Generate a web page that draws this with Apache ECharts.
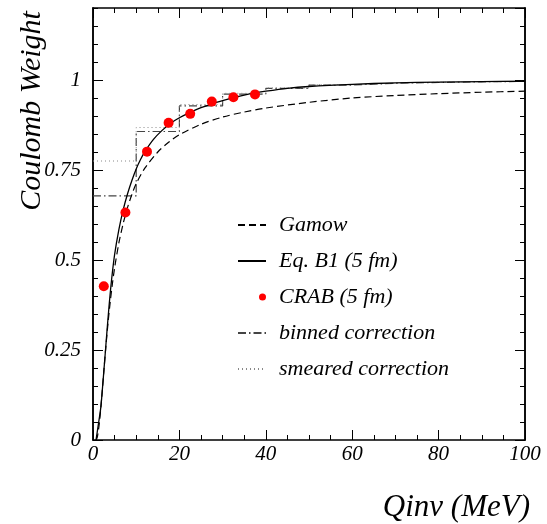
<!DOCTYPE html>
<html lang="en" style="height: 100%">
<head>
  <meta charset="utf-8">
</head>
<body style="height: 100%; margin: 0">
<div id="container" style="width: 547px; height: 524px"></div>

<script type="text/javascript" src="https://cdn.jsdelivr.net/npm/echarts@6/dist/echarts.min.js"></script>
<script type="text/javascript">
  // Gamow factor (dashed)
  var qGamow = [0.7, 1, 1.5, 2, 2.5, 3, 3.5, 4, 4.5, 5, 6, 7, 8, 9, 10, 12, 15, 17.5, 20, 25, 30, 35, 40, 50, 60, 70, 80, 90, 100];
  var wGamow = [0, 0.008, 0.05, 0.115, 0.19, 0.262, 0.328, 0.385, 0.435, 0.478, 0.548, 0.602, 0.646, 0.682, 0.712, 0.755, 0.8, 0.827, 0.848, 0.877, 0.897, 0.911, 0.922, 0.938, 0.95, 0.957, 0.962, 0.966, 0.969];

  // Eq. B1 (5 fm), solid
  var qB1 = [0.7, 1.2, 1.8, 2.2, 2.7, 3.2, 3.7, 4.3, 5, 6, 7, 8, 9, 10, 11, 12, 14, 16, 18, 20, 22.5, 25, 27.5, 30, 32.5, 35, 37.5, 40, 45, 50, 60, 70, 80, 90, 100];
  var wB1 = [0, 0.04, 0.09, 0.145, 0.22, 0.297, 0.37, 0.445, 0.515, 0.585, 0.64, 0.684, 0.721, 0.753, 0.779, 0.801, 0.835, 0.86, 0.88, 0.895, 0.91, 0.923, 0.934, 0.943, 0.951, 0.958, 0.964, 0.969, 0.977, 0.982, 0.988, 0.992, 0.994, 0.9955, 0.9965];

  // CRAB (5 fm) points
  var qCrab = [2.5, 7.5, 12.5, 17.5, 22.5, 27.5, 32.5, 37.5];
  var wCrab = [0.427, 0.632, 0.801, 0.881, 0.906, 0.94, 0.952, 0.96];

  // 10 MeV bins
  var binEdges = [0, 10, 20, 30, 40, 50, 60, 70, 80, 90, 100];
  var wBinned = [0.678, 0.857, 0.928, 0.961, 0.977, 0.986, 0.991, 0.993, 0.995, 0.996];
  var wSmeared = [0.775, 0.868, 0.932, 0.963, 0.978, 0.987, 0.991, 0.994, 0.995, 0.996];

  var xTickValues = [0, 20, 40, 60, 80, 100];
  var xTickLabels = ['0', '20', '40', '60', '80', '100'];
  var yTickValues = [0, 0.25, 0.5, 0.75, 1];
  var yTickLabels = ['0', '0.25', '0.5', '0.75', '1'];

  function zip(xs, ys) {
    return xs.map(function (x, i) { return [x, ys[i]]; });
  }
  function steps(edges, vals) {
    var d = vals.map(function (v, i) { return [edges[i], v]; });
    d.push([edges[edges.length - 1], vals[vals.length - 1]]);
    return d;
  }
  function labelFor(values, labels) {
    return function (v) {
      for (var i = 0; i < values.length; i++) {
        if (Math.abs(values[i] - v) < 1e-6) return labels[i];
      }
      return '';
    };
  }

  var serif = '"Liberation Serif", "Times New Roman", serif';
  var black = '#000';
  var none = 'rgba(0,0,0,0)';

  function xAx(pos, showLabel) {
    return {
      type: 'value', min: 0, max: 100, interval: 20, position: pos,
      axisLine: { show: true, onZero: false, lineStyle: { color: black, width: 1.5 } },
      axisTick: { show: true, inside: true, length: 10, lineStyle: { color: black, width: 1 } },
      minorTick: { show: true, splitNumber: 4, length: 5, lineStyle: { color: black, width: 1 } },
      splitLine: { show: false },
      axisLabel: {
        show: showLabel, margin: 4, color: black, fontSize: 21, fontStyle: 'italic', fontFamily: serif,
        formatter: labelFor(xTickValues, xTickLabels)
      }
    };
  }
  function yAx(pos, interval, len, showLabel) {
    return {
      type: 'value', min: 0, max: 1.2, interval: interval, position: pos,
      axisLine: { show: true, onZero: false, lineStyle: { color: black, width: 1.5 } },
      axisTick: { show: true, inside: true, length: len, lineStyle: { color: black, width: 1 } },
      splitLine: { show: false },
      axisLabel: {
        show: showLabel, margin: 12, color: black, fontSize: 21, fontStyle: 'italic', fontFamily: serif,
        showMaxLabel: false,
        formatter: labelFor(yTickValues, yTickLabels)
      }
    };
  }

  var dom = document.getElementById('container');
  var myChart = echarts.init(dom, null, { renderer: 'canvas' });

  var option = {
    animation: false,
    backgroundColor: '#fff',
    grid: { left: 93, right: 22, top: 8, bottom: 84, containLabel: false, outerBoundsMode: 'none' },
    xAxis: [xAx('bottom', true), xAx('top', false)],
    yAxis: [
      yAx('left', 0.25, 10, true),
      yAx('left', 0.05, 5, false),
      yAx('right', 0.25, 10, false),
      yAx('right', 0.05, 5, false)
    ],
    legend: {
      orient: 'vertical',
      left: 237,
      top: 214,
      padding: 0,
      itemWidth: 28,
      itemHeight: 7,
      itemGap: 14,
      textStyle: { color: black, fontSize: 22, fontStyle: 'italic', fontFamily: serif, padding: [0, 0, 0, 8] },
      data: [
        'Gamow',
        'Eq. B1 (5 fm)',
        { name: 'CRAB (5 fm)', icon: 'path://M0,3.5L0,3.5M21,3.5a3.5,3.5 0 1,0 7,0a3.5,3.5 0 1,0 -7,0Z' },
        'binned correction',
        'smeared correction'
      ]
    },
    graphic: [
      {
        type: 'text', x: 32, y: 111, rotation: Math.PI / 2,
        style: {
          text: 'Coulomb Weight', fill: black, font: 'italic 30px ' + serif,
          align: 'center', verticalAlign: 'middle', textAlign: 'center', textVerticalAlign: 'middle'
        }
      },
      {
        type: 'text', x: 530, y: 508,
        style: {
          text: 'Qinv (MeV)', fill: black, font: 'italic 31px ' + serif,
          align: 'right', verticalAlign: 'middle', textAlign: 'right', textVerticalAlign: 'middle'
        }
      }
    ],
    series: [
      {
        name: 'binned correction', type: 'line', step: 'end', symbol: 'none',
        data: steps(binEdges, wBinned),
        itemStyle: { color: none },
        lineStyle: { color: '#444', width: 1.2, type: [8, 3, 1.5, 3] }, z: 2
      },
      {
        name: 'smeared correction', type: 'line', step: 'end', symbol: 'none',
        data: steps(binEdges, wSmeared),
        itemStyle: { color: none },
        lineStyle: { color: '#888', width: 1, type: [1, 3] }, z: 2
      },
      {
        name: 'Gamow', type: 'line', symbol: 'none', smooth: 0.3,
        data: zip(qGamow, wGamow),
        itemStyle: { color: none },
        lineStyle: { color: black, width: 1.2, type: [7, 4] }, z: 3
      },
      {
        name: 'Eq. B1 (5 fm)', type: 'line', symbol: 'none', smooth: 0.3,
        data: zip(qB1, wB1),
        itemStyle: { color: none },
        lineStyle: { color: black, width: 1.3 }, z: 3
      },
      {
        name: 'CRAB (5 fm)', type: 'scatter', symbol: 'circle', symbolSize: 10,
        data: zip(qCrab, wCrab),
        itemStyle: { color: '#ff0000', opacity: 1 }, z: 4
      }
    ]
  };

  myChart.setOption(option);
  window.addEventListener('resize', myChart.resize);
</script>
</body>
</html>
